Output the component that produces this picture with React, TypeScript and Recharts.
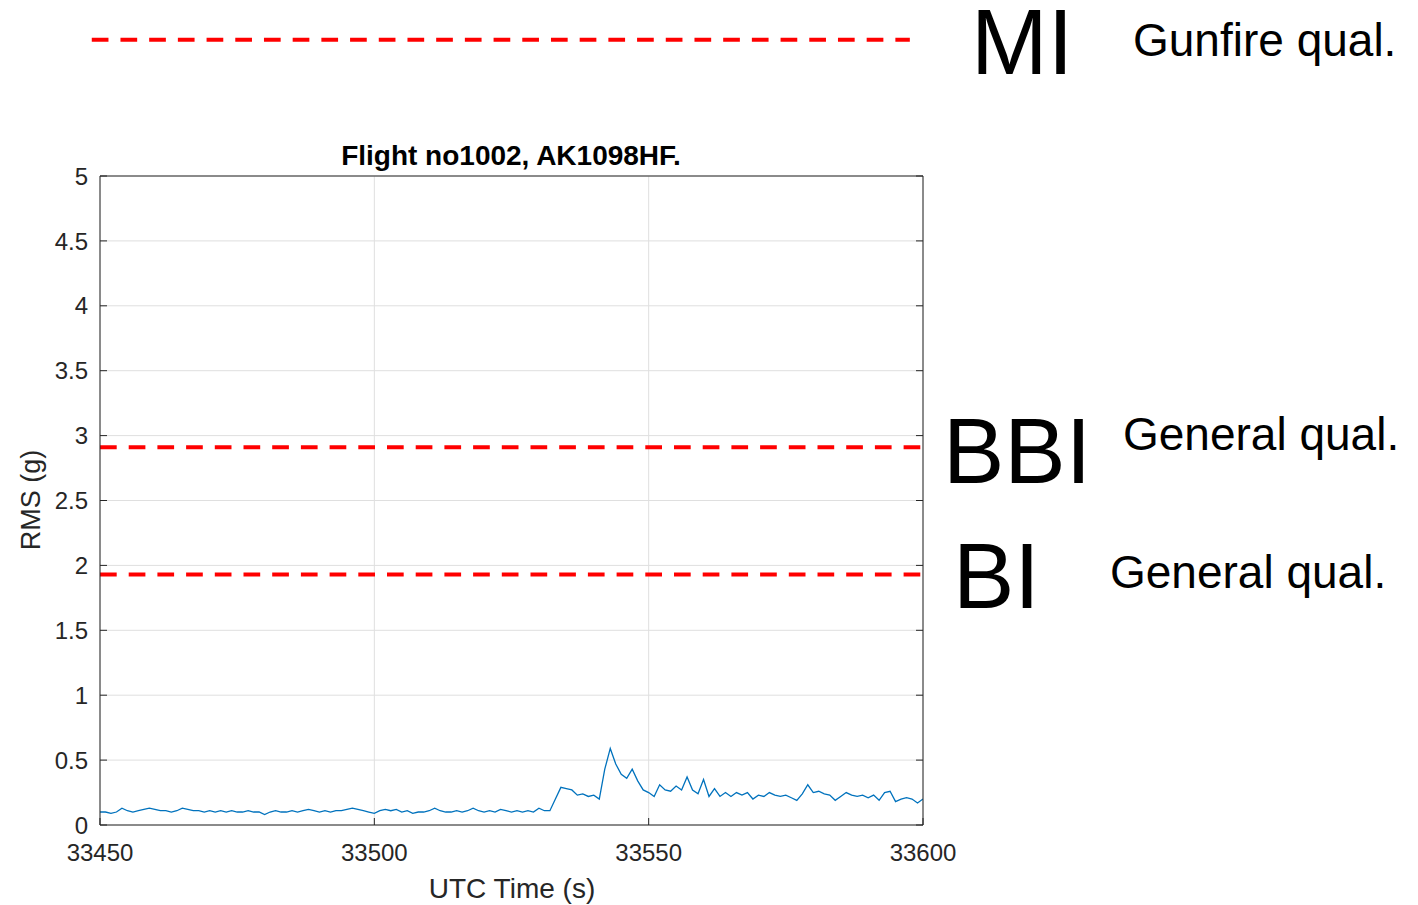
import React from 'react';
import { LineChart, Line, XAxis, YAxis, CartesianGrid, ReferenceLine } from 'recharts';

// RMS acceleration sampled once a second, starting at 33450 s UTC
const startTime = 33450;
const rmsValues = [
  0.10, 0.10, 0.09, 0.10, 0.13, 0.11, 0.10, 0.11, 0.12, 0.13, // 33450
  0.12, 0.11, 0.11, 0.10, 0.11, 0.13, 0.12, 0.11, 0.11, 0.10, // 33460
  0.11, 0.10, 0.11, 0.10, 0.11, 0.10, 0.10, 0.11, 0.10, 0.10, // 33470
  0.08, 0.10, 0.11, 0.10, 0.10, 0.11, 0.10, 0.11, 0.12, 0.11, // 33480
  0.10, 0.11, 0.10, 0.11, 0.11, 0.12, 0.13, 0.12, 0.11, 0.10, // 33490
  0.09, 0.11, 0.12, 0.11, 0.12, 0.10, 0.11, 0.09, 0.10, 0.10, // 33500
  0.11, 0.13, 0.11, 0.10, 0.10, 0.11, 0.10, 0.11, 0.13, 0.11, // 33510
  0.10, 0.11, 0.10, 0.12, 0.11, 0.10, 0.11, 0.10, 0.11, 0.10, // 33520
  0.13, 0.11, 0.11, 0.20, 0.29, 0.28, 0.27, 0.23, 0.24, 0.22, // 33530
  0.23, 0.20, 0.43, 0.59, 0.47, 0.39, 0.36, 0.43, 0.34, 0.27, // 33540
  0.25, 0.22, 0.31, 0.27, 0.26, 0.30, 0.27, 0.37, 0.27, 0.24, // 33550
  0.35, 0.22, 0.28, 0.22, 0.25, 0.22, 0.25, 0.23, 0.25, 0.20, // 33560
  0.23, 0.22, 0.25, 0.23, 0.22, 0.23, 0.21, 0.19, 0.24, 0.31, // 33570
  0.25, 0.26, 0.24, 0.23, 0.19, 0.22, 0.25, 0.23, 0.22, 0.23, // 33580
  0.21, 0.23, 0.19, 0.25, 0.26, 0.18, 0.20, 0.21, 0.20, 0.17, // 33590
  0.20, // 33600
];

const xTicks = [33450, 33500, 33550, 33600];
const yTicks = [0, 0.5, 1, 1.5, 2, 2.5, 3, 3.5, 4, 4.5, 5];

// qualification limits (g RMS)
const miLevel = 6.05;
const bbiLevel = 2.91;
const biLevel = 1.93;
const miSpan = [33448.5, 33597.6];

const chartData = rmsValues.map((rms, i) => ({ time: startTime + i, rms }));

const FONT = '"Liberation Sans", Arial, Helvetica, sans-serif';
const INK = '#262626';
const TICK_LEN = 7;

const LeftTick = (props: any) => {
  const { x, y, payload } = props;
  return (
    <g>
      <line x1={x} y1={y} x2={x + TICK_LEN} y2={y} stroke={INK} />
      <text x={x - 12} y={y} dy="0.36em" textAnchor="end" fontSize={24} fontFamily={FONT} fill={INK}>
        {payload.value}
      </text>
    </g>
  );
};

const BottomTick = (props: any) => {
  const { x, y, payload } = props;
  return (
    <g>
      <line x1={x} y1={y} x2={x} y2={y - TICK_LEN} stroke={INK} />
      <text x={x} y={y + 36} textAnchor="middle" fontSize={24} fontFamily={FONT} fill={INK}>
        {payload.value}
      </text>
    </g>
  );
};

const RightTick = (props: any) => {
  const { x, y } = props;
  return <line x1={x} y1={y} x2={x - TICK_LEN} y2={y} stroke={INK} />;
};

const TopTick = (props: any) => {
  const { x, y } = props;
  return <line x1={x} y1={y} x2={x} y2={y + TICK_LEN} stroke={INK} />;
};

// big limit name plus qualification note, placed off to the right of the plot
const LimitTag = (props: any) => {
  const { viewBox, name, note, nameX, nameDy, noteX, noteDy } = props;
  if (!viewBox) return null;
  const y = viewBox.y;
  return (
    <g fontFamily={FONT} fill="#000">
      <text x={nameX} y={y + nameDy} fontSize={92}>
        {name}
      </text>
      <text x={noteX} y={y + noteDy} fontSize={46}>
        {note}
      </text>
    </g>
  );
};

const limitStroke = { stroke: '#ff0000', strokeWidth: 4, strokeDasharray: '16.7 12' };

const App: React.FC = () => {
  return (
    <div style={{ position: 'absolute', left: 0, top: 0, width: 1418, height: 905, background: '#fff' }}>
      <LineChart
        width={1418}
        height={905}
        data={chartData}
        margin={{ top: 166, right: 485, bottom: 40, left: 40 }}
      >
        <CartesianGrid stroke="#dfdfdf" strokeWidth={1} />
        <XAxis
          dataKey="time"
          type="number"
          domain={[33450, 33600]}
          ticks={xTicks}
          height={40}
          tickSize={0}
          tickMargin={0}
          tickLine={false}
          axisLine={{ stroke: INK }}
          tick={<BottomTick />}
          interval={0}
          allowDataOverflow
        />
        <XAxis
          xAxisId="top"
          orientation="top"
          type="number"
          domain={[33450, 33600]}
          ticks={xTicks}
          height={10}
          tickSize={0}
          tickMargin={0}
          tickLine={false}
          axisLine={{ stroke: INK }}
          tick={<TopTick />}
          interval={0}
          allowDataOverflow
        />
        <YAxis
          type="number"
          domain={[0, 5]}
          ticks={yTicks}
          width={60}
          tickSize={0}
          tickMargin={0}
          tickLine={false}
          axisLine={{ stroke: INK }}
          tick={<LeftTick />}
          interval={0}
          allowDataOverflow
        />
        <YAxis
          yAxisId="right"
          orientation="right"
          type="number"
          domain={[0, 5]}
          ticks={yTicks}
          width={10}
          tickSize={0}
          tickMargin={0}
          tickLine={false}
          axisLine={{ stroke: INK }}
          tick={<RightTick />}
          interval={0}
          allowDataOverflow
        />

        <Line
          type="linear"
          dataKey="rms"
          stroke="#0072bd"
          strokeWidth={1.3}
          dot={false}
          isAnimationActive={false}
        />

        <ReferenceLine
          y={bbiLevel}
          {...limitStroke}
          ifOverflow="visible"
          label={<LimitTag name="BBI" note="General qual." nameX={943} nameDy={36} noteX={1123} noteDy={3} />}
        />
        <ReferenceLine
          y={biLevel}
          {...limitStroke}
          ifOverflow="visible"
          label={<LimitTag name="BI" note="General qual." nameX={953} nameDy={34} noteX={1110} noteDy={14} />}
        />
        <ReferenceLine
          segment={[
            { x: miSpan[0], y: miLevel },
            { x: miSpan[1], y: miLevel },
          ]}
          {...limitStroke}
          ifOverflow="visible"
          label={<LimitTag name="MI" note="Gunfire qual." nameX={971} nameDy={34} noteX={1133} noteDy={16} />}
        />

        <text x={511} y={165} textAnchor="middle" fontSize={28} fontWeight="bold" fontFamily={FONT} fill="#000">
          Flight no1002, AK1098HF.
        </text>
        <text x={512} y={898} textAnchor="middle" fontSize={28} fontFamily={FONT} fill={INK}>
          UTC Time (s)
        </text>
        <text
          x={0}
          y={0}
          transform="translate(40, 500) rotate(-90)"
          textAnchor="middle"
          fontSize={27}
          fontFamily={FONT}
          fill={INK}
        >
          RMS (g)
        </text>
      </LineChart>
    </div>
  );
};

export default App;
